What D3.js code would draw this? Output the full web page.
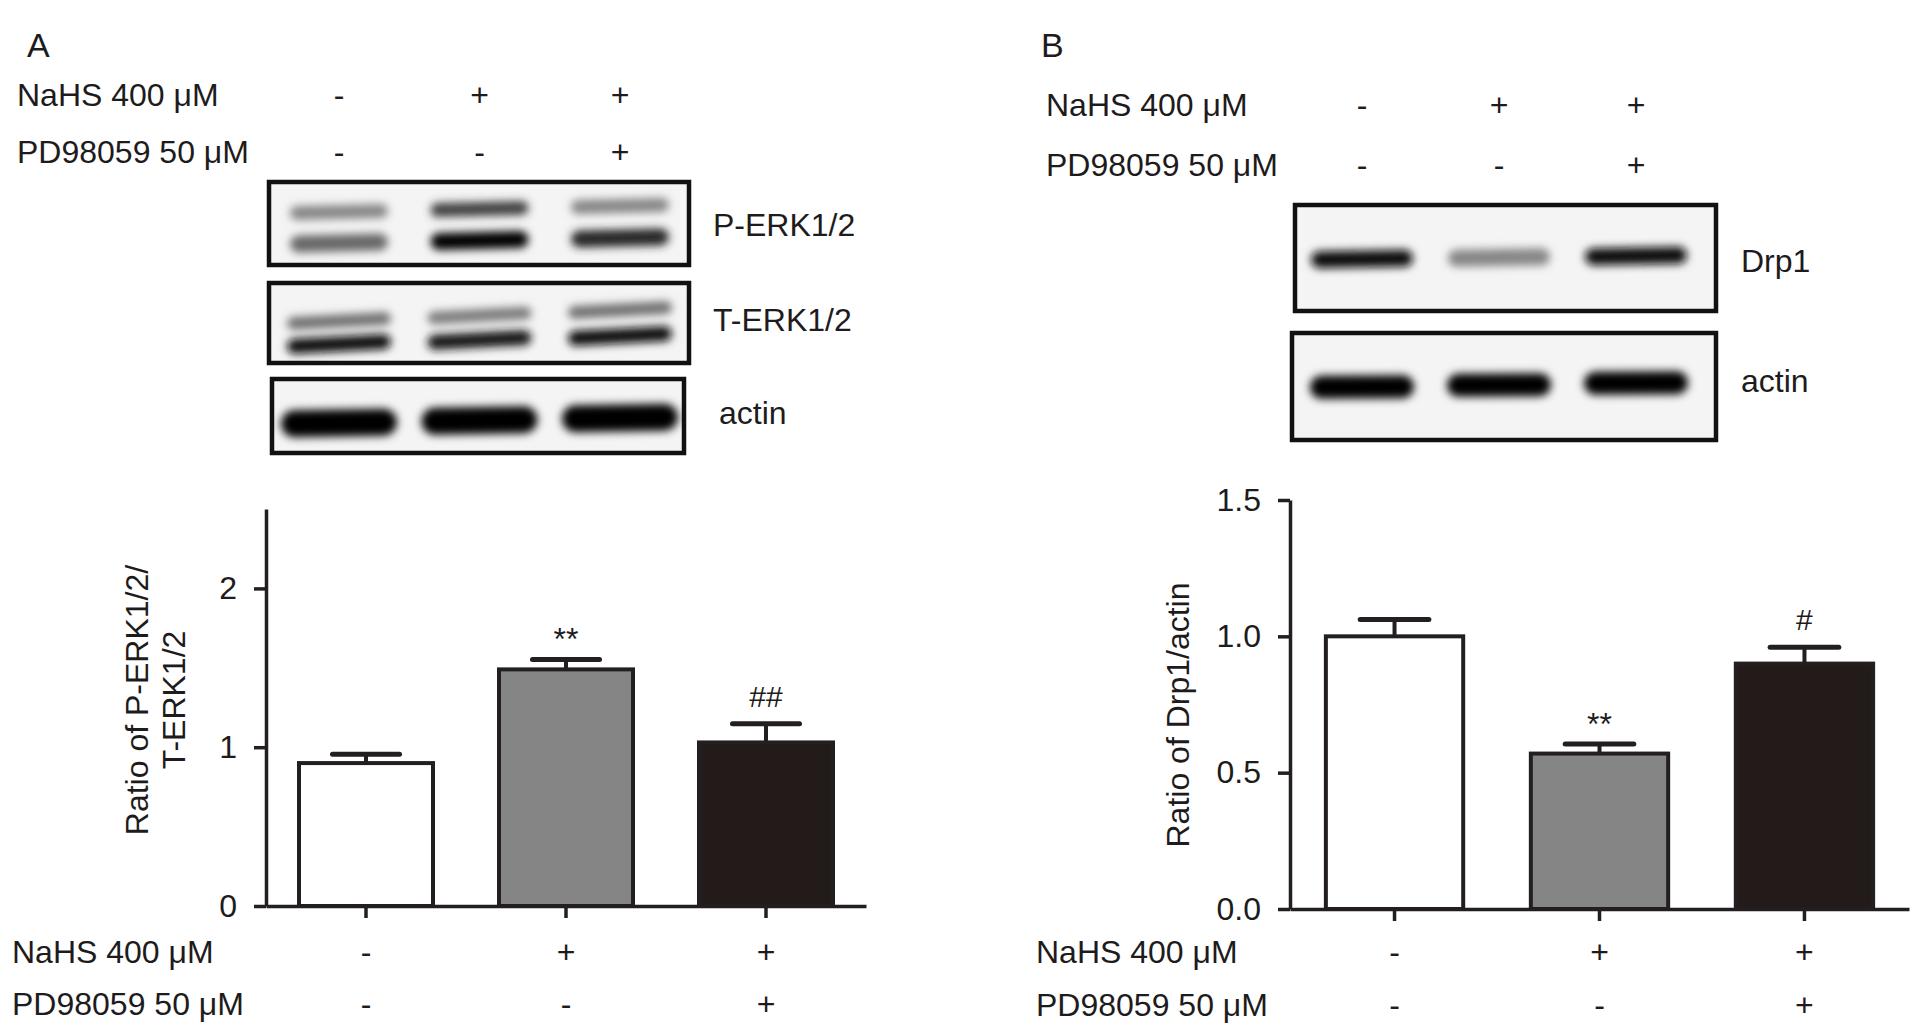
<!DOCTYPE html>
<html>
<head>
<meta charset="utf-8">
<script src="https://cdn.jsdelivr.net/npm/d3@7"></script>
<style>
  html, body { margin: 0; padding: 0; background: #fff; }
  svg { display: block; }
  text { font-family: "Liberation Sans", Arial, Helvetica, sans-serif; fill: #1e1b1c; }
</style>
</head>
<body>
<script>
// ---------------- DATA ----------------
const groups = ["Control", "NaHS", "NaHS+PD98059"];
const nahsSigns = ["-", "+", "+"];
const pdSigns = ["-", "-", "+"];
const rowLabelNaHS = "NaHS 400 \u03bcM";
const rowLabelPD = "PD98059 50 \u03bcM";

// Panel A quantification (ratio P-ERK1/2 / T-ERK1/2)
const erkMean = [0.90, 1.49, 1.03];
const erkSem = [0.055, 0.063, 0.118];
const erkMarks = ["", "**", "##"];
const erkTicks = [0, 1, 2];
const erkYLabel = ["Ratio of P-ERK1/2/", "T-ERK1/2"];

// Panel B quantification (ratio Drp1 / actin)
const drpMean = [1.00, 0.57, 0.90];
const drpSem = [0.062, 0.035, 0.060];
const drpMarks = ["", "**", "#"];
const drpTicks = [0, 0.5, 1.0, 1.5];
const drpYLabel = "Ratio of Drp1/actin";

// Blot band darkness per lane (0 = none, 1 = saturated)
const pErkUpper = [0.45, 0.75, 0.45];
const pErkLower = [0.58, 1.00, 0.85];
const tErkUpper = [0.55, 0.50, 0.55];
const tErkLower = [0.95, 0.92, 0.95];
const actinA = [1.00, 1.00, 1.00];
const drp1Band = [0.95, 0.45, 0.95];
const actinB = [1.00, 1.00, 1.00];
const blotLabelsA = ["P-ERK1/2", "T-ERK1/2", "actin"];
const blotLabelsB = ["Drp1", "actin"];

// ---------------- LAYOUT ----------------
const W = 1925, H = 1036;
const FS = 32;
const svg = d3.select("body").append("svg").attr("width", W).attr("height", H);

const defs = svg.append("defs");
defs.append("filter").attr("id", "blur").attr("x", "-30%").attr("y", "-150%").attr("width", "160%").attr("height", "400%")
  .append("feGaussianBlur").attr("stdDeviation", 4);
defs.append("filter").attr("id", "blur2").attr("x", "-30%").attr("y", "-150%").attr("width", "160%").attr("height", "400%")
  .append("feGaussianBlur").attr("stdDeviation", 4.5);

const ink = "#231f20";
const shade = d3.interpolateRgb("#f0f0f0", "#050505");

function txt(g, x, y, s, opts = {}) {
  return g.append("text").attr("x", x).attr("y", y).text(s)
    .attr("font-size", opts.size || FS)
    .attr("text-anchor", opts.anchor || "start");
}

// ----- treatment rows (top and bottom) -----
function signRows(xScale, labelX, yNaHS, yPD) {
  txt(svg, labelX, yNaHS, rowLabelNaHS);
  txt(svg, labelX, yPD, rowLabelPD);
  groups.forEach((gname, i) => {
    txt(svg, xScale(gname), yNaHS, nahsSigns[i], { anchor: "middle" });
    txt(svg, xScale(gname), yPD, pdSigns[i], { anchor: "middle" });
  });
}

// ----- blot drawing -----
function blotBox(x0, x1, y0, y1) {
  svg.append("rect").attr("x", x0).attr("y", y0).attr("width", x1 - x0).attr("height", y1 - y0)
    .attr("fill", "#f4f4f4").attr("stroke", "#111").attr("stroke-width", 4.5);
}
function bands(laneScale, values, yBase, tilt, w, h, rot, filter) {
  const g = svg.append("g").attr("filter", `url(#${filter})`);
  groups.forEach((gname, i) => {
    const cx = laneScale(gname), cy = yBase + tilt * i;
    g.append("rect")
      .attr("x", cx - w / 2).attr("y", cy - h / 2).attr("width", w).attr("height", h)
      .attr("rx", h / 2)
      .attr("fill", shade(values[i]))
      .attr("transform", `rotate(${rot},${cx},${cy})`);
  });
}

// ================= PANEL A =================
txt(svg, 27, 57, "A", { size: 34 });
const laneA = d3.scalePoint(groups, [339, 620]);
signRows(laneA, 17, 106, 163);

blotBox(269, 689, 182, 265);
blotBox(269, 689, 283, 363);
blotBox(272, 684, 379, 453);
bands(laneA, pErkUpper, 212, -3, 98, 14, -1.5, "blur");
bands(laneA, pErkLower, 243, -2.5, 98, 17, -1.5, "blur");
bands(laneA, tErkUpper, 321, -5.5, 104, 13, -3, "blur");
bands(laneA, tErkLower, 344, -4, 104, 15, -3, "blur");
bands(laneA, actinA, 423, -2.5, 116, 27, -1, "blur2");
txt(svg, 713, 236, blotLabelsA[0]);
txt(svg, 713, 331, blotLabelsA[1]);
txt(svg, 719, 424, blotLabelsA[2]);

// chart A
const yA = d3.scaleLinear([0, 2.5], [906, 509]);
const xA = d3.scaleBand(groups, [266, 866]).paddingInner(0.33).paddingOuter(0.165);

function barChart(x, y, means, sems, marks, ticks, fmt, axisX) {
  const base = y(0);
  const fills = ["#ffffff", "#858585", "#231a1a"];
  const g = svg.append("g");
  g.selectAll("rect.bar").data(groups).join("rect")
    .attr("class", "bar")
    .attr("x", d => x(d)).attr("width", x.bandwidth())
    .attr("y", (d, i) => y(means[i])).attr("height", (d, i) => base - y(means[i]))
    .attr("fill", (d, i) => fills[i]).attr("stroke", ink).attr("stroke-width", 4);
  // error bars
  groups.forEach((d, i) => {
    const cx = x(d) + x.bandwidth() / 2;
    const top = y(means[i] + sems[i]);
    g.append("line").attr("x1", cx).attr("x2", cx).attr("y1", y(means[i])).attr("y2", top)
      .attr("stroke", ink).attr("stroke-width", 4);
    g.append("line").attr("x1", cx - x.bandwidth() / 4).attr("x2", cx + x.bandwidth() / 4)
      .attr("y1", top).attr("y2", top).attr("stroke", ink).attr("stroke-width", 5).attr("stroke-linecap", "round");
    if (marks[i]) {
      const isStar = marks[i].includes("*");
      const centerY = top - 27;
      txt(g, cx, centerY + (isStar ? 18 : 10), marks[i], { anchor: "middle", size: isStar ? 32 : 30 })
        .attr("fill", "#333");
    }
  });
  // axes
  const ya = svg.append("g").attr("transform", `translate(${axisX},0)`)
    .call(d3.axisLeft(y).tickValues(ticks).tickSize(12).tickSizeOuter(0).tickPadding(17).tickFormat(fmt));
  const xa = svg.append("g").attr("transform", `translate(0,${base})`)
    .call(d3.axisBottom(x).tickSize(12).tickSizeOuter(0).tickFormat(""));
  [ya, xa].forEach(a => {
    a.select(".domain").attr("stroke", ink).attr("stroke-width", 3.5);
    a.selectAll(".tick line").attr("stroke", ink).attr("stroke-width", 3.5);
    a.selectAll(".tick text").attr("font-size", FS).attr("fill", "#1e1b1c")
      .attr("font-family", '"Liberation Sans", Arial, sans-serif');
  });
}
barChart(xA, yA, erkMean, erkSem, erkMarks, erkTicks, d3.format("d"), 266);
svg.append("text").attr("transform", "translate(137,700) rotate(-90)")
  .attr("text-anchor", "middle").attr("dominant-baseline", "central").attr("font-size", FS).text(erkYLabel[0]);
svg.append("text").attr("transform", "translate(174,700) rotate(-90)")
  .attr("text-anchor", "middle").attr("dominant-baseline", "central").attr("font-size", FS).text(erkYLabel[1]);
const tickA = d3.scalePoint(groups, [xA("Control") + xA.bandwidth() / 2, xA("NaHS+PD98059") + xA.bandwidth() / 2]);
signRows(tickA, 12, 963, 1015);

// ================= PANEL B =================
txt(svg, 1041, 57, "B", { size: 34 });
const laneB = d3.scalePoint(groups, [1362, 1636]);
signRows(laneB, 1046, 116, 176);

blotBox(1295, 1716, 205, 311);
blotBox(1292, 1716, 333, 440);
bands(laneB, drp1Band, 259, -1.5, 102, 17, -1, "blur");
bands(laneB, actinB, 387, -2, 104, 23, -0.5, "blur2");
txt(svg, 1741, 272, blotLabelsB[0]);
txt(svg, 1741, 392, blotLabelsB[1]);

const yB = d3.scaleLinear([0, 1.5], [909, 500]);
const xB = d3.scaleBand(groups, [1290, 1909]).paddingInner(0.33).paddingOuter(0.175);
barChart(xB, yB, drpMean, drpSem, drpMarks, drpTicks, d3.format(".1f"), 1290);
svg.append("text").attr("transform", "translate(1178,715) rotate(-90)")
  .attr("text-anchor", "middle").attr("dominant-baseline", "central").attr("font-size", FS).text(drpYLabel);
const tickB = d3.scalePoint(groups, [xB("Control") + xB.bandwidth() / 2, xB("NaHS+PD98059") + xB.bandwidth() / 2]);
signRows(tickB, 1036, 963, 1016);
</script>
</body>
</html>
